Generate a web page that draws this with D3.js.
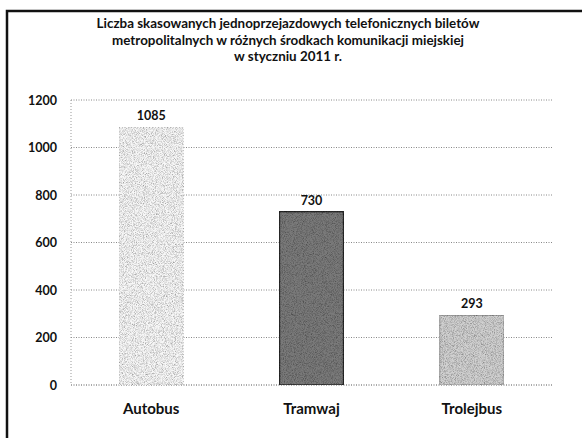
<!DOCTYPE html>
<html>
<head>
<meta charset="utf-8">
<script src="https://cdn.jsdelivr.net/npm/d3@7"></script>
<style>
  body { margin: 0; background: #fff; }
  svg { font-family: Lato, "Open Sans", sans-serif; font-weight: bold; }
</style>
</head>
<body>
<div id="chart"></div>
<script>
var categories = ['Autobus', 'Tramwaj', 'Trolejbus'];
var values = [1085, 730, 293];
var yTicks = [0, 200, 400, 600, 800, 1000, 1200];
var titleLines = [
    'Liczba skasowanych jednoprzejazdowych telefonicznych biletów',
    'metropolitalnych w różnych środkach komunikacji miejskiej',
    'w styczniu 2011 r.'
];
var barFills = ['#f7f7f7', '#7a7a7a', '#d0d0d0'];
var barStrokes = ['#bbb', '#2a2a2a', '#999'];

let width = 582, height = 438;
let plotLeft = 71, plotRight = 552, plotTop = 100, plotBottom = 385;

let svg = d3.select('#chart').append('svg')
    .attr('width', width)
    .attr('height', height);

// grainy texture like a scanned print
let defs = svg.append('defs');
let f = defs.append('filter').attr('id', 'grain')
    .attr('x', 0).attr('y', 0).attr('width', 1).attr('height', 1);
f.append('feTurbulence').attr('type', 'fractalNoise')
    .attr('baseFrequency', 1.1).attr('numOctaves', 2).attr('result', 'noise');
f.append('feColorMatrix').attr('in', 'noise').attr('type', 'matrix')
    .attr('values', '0 0 0 0 0  0 0 0 0 0  0 0 0 0 0  0 0 0 1.3 -0.5')
    .attr('result', 'dots');
f.append('feComposite').attr('in', 'dots').attr('in2', 'SourceGraphic')
    .attr('operator', 'in').attr('result', 'dotsIn');
f.append('feMerge').selectAll('feMergeNode')
    .data(['SourceGraphic', 'dotsIn']).enter()
    .append('feMergeNode').attr('in', d => d);

// frame
svg.append('path')
    .attr('d', 'M7,' + height + 'V11H' + width)
    .attr('fill', 'none')
    .attr('stroke', '#111')
    .attr('stroke-width', 2.5);

svg.append('g').selectAll('text')
    .data(titleLines).enter()
    .append('text')
    .attr('x', 288)
    .attr('y', (d, i) => 28 + i * 16.5)
    .attr('text-anchor', 'middle')
    .attr('font-size', 13.4)
    .attr('fill', '#111')
    .text(d => d);

let x = d3.scaleBand()
    .domain(categories)
    .range([plotLeft, plotRight])
    .paddingInner(0.6)
    .paddingOuter(0.3);

let y = d3.scaleLinear()
    .domain([0, 1200])
    .range([plotBottom, plotTop]);

// gridlines
svg.append('g').selectAll('line')
    .data(yTicks).enter()
    .append('line')
    .attr('x1', plotLeft).attr('x2', plotRight)
    .attr('y1', d => y(d)).attr('y2', d => y(d))
    .attr('stroke', d => d == 0 ? '#555' : '#888')
    .attr('stroke-width', 1)
    .attr('stroke-dasharray', '1,1.5');

svg.append('line')
    .attr('x1', plotLeft).attr('x2', plotLeft)
    .attr('y1', plotTop).attr('y2', plotBottom)
    .attr('stroke', '#999')
    .attr('stroke-dasharray', '1,2');

let yAxis = d3.axisLeft(y).tickValues(yTicks).tickFormat(d3.format('d'))
    .tickSize(0).tickPadding(14);
svg.append('g')
    .attr('transform', 'translate(' + plotLeft + ',0)')
    .call(yAxis)
    .call(g => g.select('.domain').remove())
    .selectAll('text')
    .attr('font-family', 'Lato, sans-serif')
    .attr('font-weight', 'bold')
    .attr('font-size', 12.5)
    .attr('fill', '#111');

let bars = svg.append('g').selectAll('g')
    .data(categories).enter()
    .append('g');

bars.append('rect')
    .attr('x', d => x(d))
    .attr('y', (d, i) => y(values[i]))
    .attr('width', x.bandwidth())
    .attr('height', (d, i) => y(0) - y(values[i]))
    .attr('fill', (d, i) => barFills[i])
    .attr('stroke', (d, i) => barStrokes[i])
    .attr('stroke-width', (d, i) => i == 1 ? 1.5 : 1)
    .attr('stroke-dasharray', (d, i) => i == 0 ? '1,2' : null)
    .attr('filter', 'url(#grain)');

bars.append('text')
    .attr('x', d => x(d) + x.bandwidth() / 2)
    .attr('y', (d, i) => y(values[i]) - 7)
    .attr('text-anchor', 'middle')
    .attr('font-size', 12.5)
    .attr('fill', '#111')
    .text((d, i) => values[i]);

let xAxis = d3.axisBottom(x).tickSize(0).tickPadding(18);
svg.append('g')
    .attr('transform', 'translate(0,' + plotBottom + ')')
    .call(xAxis)
    .call(g => g.select('.domain').remove())
    .selectAll('text')
    .attr('font-family', 'Lato, sans-serif')
    .attr('font-weight', 'bold')
    .attr('font-size', 15)
    .attr('fill', '#111');
</script>
</body>
</html>
